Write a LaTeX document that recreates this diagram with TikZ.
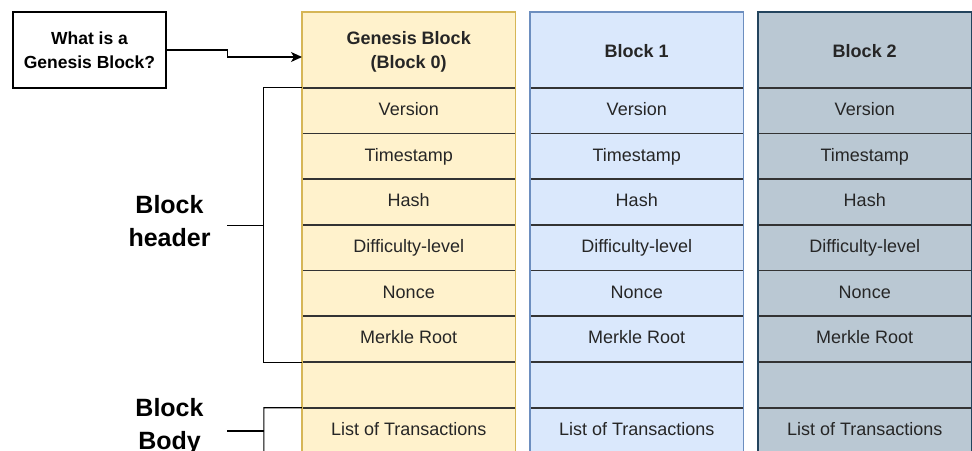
\documentclass[tikz,border=0pt]{standalone}
\usepackage{fontspec}
\setmainfont{Liberation Sans}
\usetikzlibrary{arrows.meta}

\definecolor{gfill}{HTML}{FFF2CC}
\definecolor{gline}{HTML}{D6B656}
\definecolor{bfill}{HTML}{DAE8FC}
\definecolor{bline}{HTML}{6C8EBF}
\definecolor{dfill}{HTML}{BAC8D3}
\definecolor{dline}{HTML}{23445D}
\definecolor{sepc}{HTML}{333333}
\definecolor{txt}{HTML}{262626}

\tikzset{
  celltext/.style={minimum width=213.5bp, minimum height=45.7bp, inner sep=0pt,
    text height=13bp, text depth=4bp,
    text=txt, font=\fontsize{18bp}{22bp}\selectfont},
  titletext/.style={minimum width=213.5bp, minimum height=76bp, inner sep=0pt,
    align=center, text=txt, font=\bfseries\fontsize{18bp}{24bp}\selectfont},
  sepline/.style={draw=sepc, line width=1.8bp},
  colborder/.style={line width=1.2bp},
  bracket/.style={draw=black, line width=1.1bp},
  sidelabel/.style={align=center, text=black, font=\bfseries\fontsize{25bp}{33bp}\selectfont},
  qbox/.style={draw=black, line width=1.3bp, minimum width=153bp, minimum height=76bp,
    inner sep=0pt, align=center, font=\bfseries\fontsize{17.5bp}{24bp}\selectfont},
  link/.style={draw=black, line width=1.3bp, -{Stealth[length=11bp,width=10bp,inset=3bp]}}
}

% One block drawn as a column of fields: #1 left edge, #2 fill, #3 border,
% #4 name prefix, #5 title
\newcommand\blockcolumn[5]{%
  \fill[#2] (#1,12) rectangle ++(213.5,450);
  \node[titletext] (#4-0) at (#1+106.75,51.5) {#5};
  \foreach \lbl [count=\k] in {Version,Timestamp,Hash,Difficulty-level,Nonce,Merkle Root,{},List of Transactions} {
    \node[celltext] (#4-\k) at (#1+106.75,{88+(\k-0.5)*45.7}) {\lbl};
    \draw[sepline] (#4-\k.north west) -- (#4-\k.north east);
  }
  \draw[draw=#3, colborder] (#1,12) rectangle ++(213.5,450);
}

\begin{document}
\begin{tikzpicture}[x=1bp,y=-1bp]
\useasboundingbox (0,0) rectangle (972,451);

\blockcolumn{302}{gfill}{gline}{g}{Genesis Block\\(Block 0)}
\blockcolumn{530}{bfill}{bline}{b}{Block 1}
\blockcolumn{758}{dfill}{dline}{d}{Block 2}

% question box and its link to the genesis block
\node[qbox] (q) at (89.5,50) {What is a\\Genesis Block?};
\coordinate (gin) at (302,57);
\draw[link] (q.east) -- ++(61,0) -- ++(0,7) -- (gin);

% header bracket
\coordinate (hb-mid) at (264,225.1);
\coordinate (hb-tick) at (227,225.1);
\draw[bracket] (g-1.north west) -- ++(-38,0) |- (g-6.south west);
\draw[bracket] (hb-tick) -- (hb-mid);
\node[sidelabel] (hlabel) at (169.5,221) {Block\\header};

% body bracket, running on past the lower edge
\coordinate (bb-end) at (264,470);
\coordinate (bb-mid) at (264,431);
\coordinate (bb-tick) at (227,431);
\draw[bracket] (g-8.north west) -- ++(-38,0) -- (bb-end);
\draw[bracket] (bb-tick) -- (bb-mid);
\node[sidelabel] (blabel) at (169.5,427) {Block\\Body};
\end{tikzpicture}
\end{document}
